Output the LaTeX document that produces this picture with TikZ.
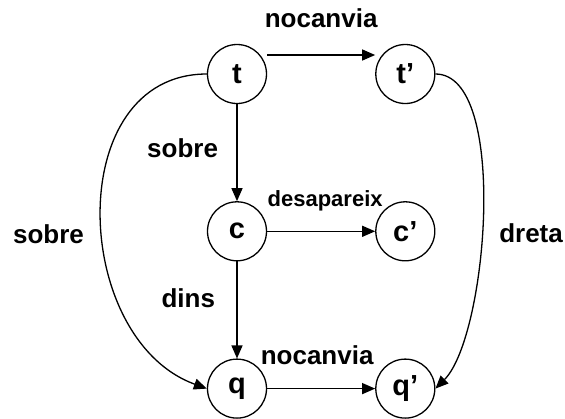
\documentclass[tikz,border=0pt]{standalone}
\usepackage{fontspec}
\setmainfont{Liberation Sans}
\usetikzlibrary{arrows.meta,positioning}

\begin{document}
\begin{tikzpicture}[>={Triangle[length=13pt,width=11pt]},line width=1.3pt,
    node distance=97pt and 108pt,
    font=\fontsize{26}{30}\selectfont\bfseries,
    state/.style={circle,draw,minimum size=59pt,inner sep=0pt,font=\fontsize{29}{32}\selectfont\bfseries},
    small/.style={font=\fontsize{22}{26}\selectfont\bfseries}]

                \node[state] (t) {t};
                \node[state] (tp) [right=of t] {t'};
                \node[state] (c) [below=of t] {c};
                \node[state] (cp) [right=of c] {c'};
                \node[state] (q) [below=of c] {q};
                \node[state] (qp) [right=of q] {q'};

                \useasboundingbox ([shift={(-237pt,74pt)}]t.center) rectangle ++(565pt,-413pt);

                \path[->] ([yshift=19pt]t.east) edge node[above=23pt] {nocanvia} ([yshift=19pt]tp.west)
                          (t) edge node[left=15pt,pos=0.45] {sobre} (c)
                          (c) edge node[left=18pt,pos=0.38] {dins} (q)
                          (c) edge node[small,above=16pt,xshift=4pt] {desapareix} (cp)
                          (q) edge node[above=20pt,xshift=-4pt] {nocanvia} (qp)
                          (t.west) edge [out=180,in=160,looseness=1.18] node[left=15pt,pos=0.55] {sobre} (q.west)
                          (tp.east) edge [out=0,in=45,looseness=0.6] node[right=14pt,pos=0.55] {dreta} (qp.east);

            \end{tikzpicture}
\end{document}
